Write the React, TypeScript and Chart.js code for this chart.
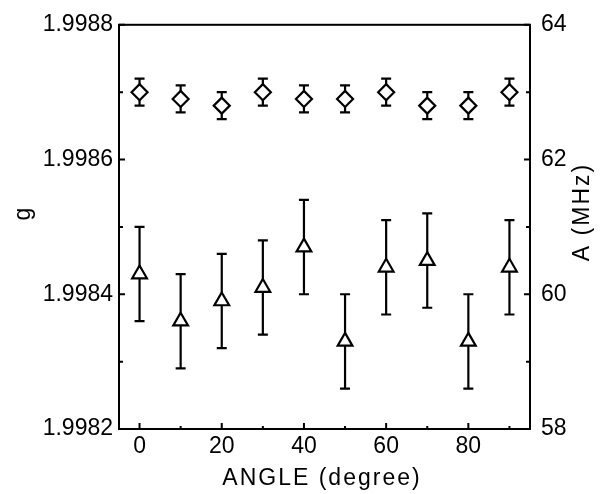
import React, { useEffect, useRef } from "react";
import { Chart, registerables } from "chart.js";

Chart.register(...registerables);

// ---- data ----
const angles = [0, 10, 20, 30, 40, 50, 60, 70, 80, 90];
const gValues = [1.9987, 1.99869, 1.99868, 1.9987, 1.99869, 1.99869, 1.9987, 1.99868, 1.99868, 1.9987];
const gErrors = [0.00002, 0.00002, 0.00002, 0.00002, 0.00002, 0.00002, 0.00002, 0.00002, 0.00002, 0.00002];
const aValues = [60.3, 59.6, 59.9, 60.1, 60.7, 59.3, 60.4, 60.5, 59.3, 60.4];
const aErrors = [0.7, 0.7, 0.7, 0.7, 0.7, 0.7, 0.7, 0.7, 0.7, 0.7];

const xMajorTicks = [0, 20, 40, 60, 80];
const xMinorTicks = [10, 30, 50, 70, 90];
const gMajorTicks = [1.9982, 1.9984, 1.9986, 1.9988];
const gMinorTicks = [1.9983, 1.9985, 1.9987];
const aMajorTicks = [58, 60, 62, 64];
const aMinorTicks = [59, 61, 63];

const xTitle = "ANGLE (degree)";
const gTitle = "g";
const aTitle = "A (MHz)";

const FONT = "'Liberation Sans', Arial, Helvetica, sans-serif";

export default function App() {
  const ref = useRef<HTMLCanvasElement>(null);

  useEffect(() => {
    document.body.style.margin = "0";
    const canvas = ref.current!;
    const errorsByDataset: number[][] = [gErrors, aErrors];

    const errorBars = {
      id: "errorBars",
      beforeDatasetsDraw(chart: any) {
        const ctx = chart.ctx;
        ctx.save();
        ctx.strokeStyle = "#000";
        ctx.lineWidth = 2.2;
        chart.data.datasets.forEach((ds: any, di: number) => {
          const meta = chart.getDatasetMeta(di);
          const scale = chart.scales[ds.yAxisID];
          const errs = errorsByDataset[di];
          meta.data.forEach((pt: any, i: number) => {
            const v = ds.data[i].y;
            const yT = scale.getPixelForValue(v + errs[i]);
            const yB = scale.getPixelForValue(v - errs[i]);
            const x = pt.x;
            ctx.beginPath();
            ctx.moveTo(x, yT);
            ctx.lineTo(x, yB);
            ctx.moveTo(x - 5, yT);
            ctx.lineTo(x + 5, yT);
            ctx.moveTo(x - 5, yB);
            ctx.lineTo(x + 5, yB);
            ctx.stroke();
          });
        });
        ctx.restore();
      },
    };

    const frame = {
      id: "frame",
      afterDraw(chart: any) {
        const ctx = chart.ctx;
        const { left, right, top, bottom } = chart.chartArea;
        const xs = chart.scales.x;
        const ys = chart.scales.y;
        const y2 = chart.scales.y2;
        ctx.save();
        ctx.strokeStyle = "#000";
        ctx.lineWidth = 2;
        ctx.strokeRect(left, top, right - left, bottom - top);
        ctx.beginPath();
        const xt = (vals: number[], len: number) =>
          vals.forEach((v) => {
            const p = xs.getPixelForValue(v);
            ctx.moveTo(p, bottom);
            ctx.lineTo(p, bottom - len);
          });
        xt(xMajorTicks, 6);
        xt(xMinorTicks, 3);
        const yl = (vals: number[], len: number) =>
          vals.forEach((v) => {
            const p = ys.getPixelForValue(v);
            ctx.moveTo(left, p);
            ctx.lineTo(left + len, p);
          });
        yl(gMajorTicks, 6);
        yl(gMinorTicks, 4);
        const yr = (vals: number[], len: number) =>
          vals.forEach((v) => {
            const p = y2.getPixelForValue(v);
            ctx.moveTo(right, p);
            ctx.lineTo(right - len, p);
          });
        yr(aMajorTicks, 6);
        yr(aMinorTicks, 4);
        ctx.stroke();

        // titles
        ctx.fillStyle = "#000";
        ctx.font = `23px ${FONT}`;
        (ctx as any).letterSpacing = "2px";
        ctx.textAlign = "center";
        ctx.textBaseline = "alphabetic";
        ctx.fillText(xTitle, 322, 485);

        ctx.save();
        ctx.translate(29.5, 213);
        ctx.rotate(-Math.PI / 2);
        ctx.fillText(gTitle, 0, 0);
        ctx.restore();

        ctx.save();
        ctx.translate(589, 212);
        ctx.rotate(-Math.PI / 2);
        ctx.fillText(aTitle, 0, 0);
        ctx.restore();
        (ctx as any).letterSpacing = "0px";
        ctx.restore();
      },
    };

    const tickFont = { family: FONT, size: 23 };

    const chart = new Chart(canvas, {
      type: "scatter",
      data: {
        datasets: [
          {
            label: "g",
            yAxisID: "y",
            data: angles.map((a, i) => ({ x: a, y: gValues[i] })),
            pointStyle: "rectRot",
            pointRadius: 8,
            pointBorderWidth: 2.2,
            pointBorderColor: "#000",
            pointBackgroundColor: "#fff",
            showLine: false,
          },
          {
            label: "A",
            yAxisID: "y2",
            data: angles.map((a, i) => ({ x: a, y: aValues[i] })),
            pointStyle: "triangle",
            pointRadius: 8.5,
            pointBorderWidth: 2.2,
            pointBorderColor: "#000",
            pointBackgroundColor: "#fff",
            showLine: false,
          },
        ],
      },
      options: {
        animation: false,
        responsive: false,
        devicePixelRatio: 1,
        layout: { padding: { top: 18, left: 0, right: 0, bottom: 0 } },
        plugins: { legend: { display: false }, tooltip: { enabled: false } },
        scales: {
          x: {
            type: "linear",
            min: -5,
            max: 95,
            afterFit: (s: any) => {
              s.height = 65;
            },
            afterBuildTicks: (s: any) => {
              s.ticks = xMajorTicks.map((v) => ({ value: v }));
            },
            ticks: {
              font: tickFont,
              color: "#000",
              padding: 4,
              autoSkip: false,
              maxRotation: 0,
              callback: (v: any) => String(v),
            },
            grid: { display: false, drawTicks: false },
            border: { display: false },
          },
          y: {
            type: "linear",
            position: "left",
            min: 1.9982,
            max: 1.9988,
            afterFit: (s: any) => {
              s.width = 119;
            },
            afterBuildTicks: (s: any) => {
              s.ticks = gMajorTicks.map((v) => ({ value: v }));
            },
            ticks: {
              font: tickFont,
              color: "#000",
              padding: 6,
              callback: (v: any) => Number(v).toFixed(4),
            },
            grid: { display: false, drawTicks: false },
            border: { display: false },
          },
          y2: {
            type: "linear",
            position: "right",
            min: 58,
            max: 64,
            afterFit: (s: any) => {
              s.width = 72;
            },
            afterBuildTicks: (s: any) => {
              s.ticks = aMajorTicks.map((v) => ({ value: v }));
            },
            ticks: {
              font: tickFont,
              color: "#000",
              padding: 11,
              callback: (v: any) => String(v),
            },
            grid: { display: false, drawTicks: false },
            border: { display: false },
          },
        },
      },
      plugins: [errorBars, frame],
    } as any);

    return () => chart.destroy();
  }, []);

  return (
    <div style={{ width: 602, height: 494, background: "#fff" }}>
      <canvas ref={ref} width={602} height={494} style={{ width: 602, height: 494, display: "block" }} />
    </div>
  );
}
